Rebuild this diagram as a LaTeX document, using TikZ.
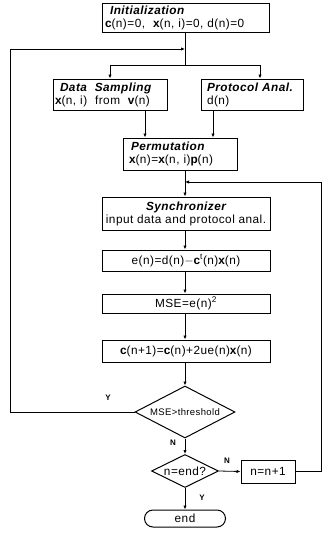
\documentclass[tikz,border=0pt]{standalone}
\usepackage{fontspec}
\setmainfont{Liberation Sans}[LetterSpace=4]
\usetikzlibrary{shapes.geometric,arrows.meta}

\begin{document}
\begin{tikzpicture}[x=1pt,y=-1pt,
  line width=0.8pt,
  txt/.style={font=\fontsize{11.8}{13}\selectfont},
  box/.style={draw, line width=1pt, rectangle, inner sep=0pt, txt},
  lbox/.style={box, align=left},
  dec/.style={draw, line width=1pt, diamond, inner sep=0pt, txt},
  term/.style={draw, line width=1pt, rectangle, rounded corners=8.5pt,
    inner sep=0pt, txt},
  lab/.style={font=\fontsize{8}{9}\selectfont\bfseries, inner sep=0pt},
  arr/.style={-{Latex[length=4pt,width=3.4pt]}}]
\useasboundingbox (0,0) rectangle (323,535);

% --- process boxes
\node[lbox, minimum width=167, minimum height=29, text width=161] (init) at (185.5,18)
  {\hspace{5pt}{\bfseries\itshape Initialization}\\
   {\bfseries c}(n)=0,\hspace{8pt}{\bfseries x}(n, i)=0,\hspace{4pt}d(n)=0};
\node[lbox, minimum width=114, minimum height=31, text width=110] (data) at (110,94.5)
  {\hspace{5pt}{\bfseries\itshape Data\ \ Sampling}\\
   {\bfseries x}(n, i)\ \ from\ \ {\bfseries v}(n)};
\node[lbox, minimum width=102, minimum height=31, text width=90] (prot) at (252,94.5)
  {{\bfseries\itshape Protocol Anal.}\\ d(n)};
\node[lbox, minimum width=114, minimum height=32, text width=102] (perm) at (180,154)
  {\hspace{2pt}{\bfseries\itshape Permutation}\\
   {\bfseries x}(n)={\bfseries x}(n, i){\bfseries p}(n)};
\node[box, align=center, minimum width=168, minimum height=33] (sync) at (186,213.5)
  {{\bfseries\itshape Synchronizer}\\ input data and protocol anal.};
\node[box, minimum width=168, minimum height=21] (err) at (186,260.5)
  {e(n)=d(n)$-${\bfseries c}\textsuperscript{t}(n){\bfseries x}(n)};
\node[box, minimum width=168, minimum height=19] (mse) at (186,303.5)
  {MSE=e(n)\textsuperscript{2}};
\node[box, minimum width=168, minimum height=22] (upd) at (186,351)
  {{\bfseries c}(n+1)={\bfseries c}(n)+2ue(n){\bfseries x}(n)};

% --- decisions and terminal
\node[dec, aspect=1.9, minimum width=100, minimum height=52,
      font=\fontsize{9.5}{11}\selectfont] (thr) at (185,412) {MSE>threshold};
\node[dec, aspect=2.1, minimum width=67, minimum height=33] (fin) at (185,471) {n=end?};
\node[box, minimum width=54, minimum height=23] (inc) at (268,471.5) {n=n+1};
\node[term, minimum width=81, minimum height=17] (stop) at (185,518.5) {end};

% --- helper points
\coordinate (col) at (185,0);
\coordinate (split) at (185,65);
\coordinate (pa) at (145,0);
\coordinate (pb) at (213,0);
\coordinate (pc) at (260,0);
\coordinate (lt) at (10,49);
\coordinate (rt) at (321,182);

% --- connectors
\draw (init.south -| col) -- (split);
\draw (data.north |- split) -- (pc |- split);
\draw[arr] (data.north |- split) -- (data.north);
\draw[arr] (pc |- split) -- (prot.north -| pc);
\draw[arr] (data.south -| pa) -- (perm.north -| pa);
\draw[arr] (prot.south -| pb) -- (perm.north -| pb);
\draw[arr] (perm.south -| col) -- (sync.north -| col);
\draw[arr] (sync.south -| col) -- (err.north -| col);
\draw[arr] (err.south -| col) -- (mse.north -| col);
\draw[arr] (mse.south -| col) -- (upd.north -| col);
\draw[arr] (upd.south -| col) -- (thr.north);
\draw[arr] (thr.south) -- (fin.north);
\draw[arr] (fin.east) -- (inc.west);
\draw[arr] (fin.south) -- (stop.north -| fin.south);

% --- loops back
\draw[arr] (thr.west) -| (lt) -- (lt -| col);
\draw[arr] (inc.east) -| (rt) -- (rt -| col);

% --- branch labels
\node[lab] (ly1) at (108,398) {Y};
\node[lab] (ln1) at (173,443) {N};
\node[lab] (ln2) at (227,461) {N};
\node[lab] (ly2) at (202,498) {Y};
\end{tikzpicture}
\end{document}
